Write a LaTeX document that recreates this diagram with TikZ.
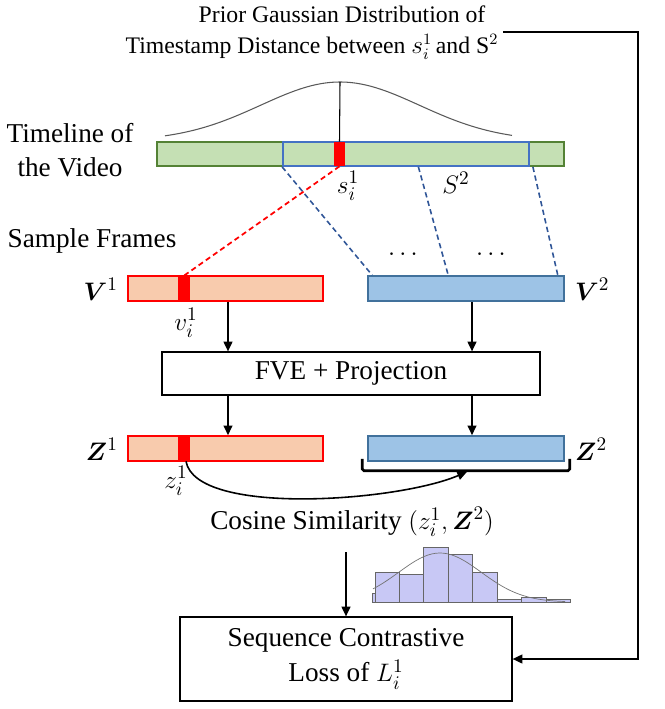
\documentclass[tikz,border=0pt]{standalone}
\usepackage{fontspec}
\setmainfont{Liberation Serif}
\usepackage{amsmath}
\usetikzlibrary{arrows.meta,fit,calc}

\definecolor{tlgreen}{HTML}{C5E0B4}
\definecolor{tledge}{HTML}{548235}
\definecolor{winblue}{HTML}{4472C4}
\definecolor{peach}{HTML}{F8CBAD}
\definecolor{featblue}{HTML}{9DC3E6}
\definecolor{featedge}{HTML}{41719C}
\definecolor{dashblue}{HTML}{2F5597}
\definecolor{histfill}{HTML}{C8C8F5}

\begin{document}
\begin{tikzpicture}[
    x=0.02cm, y=-0.02cm,
    lbl/.style      = {font=\fontsize{15.5}{19}\selectfont, align=center},
    ttl/.style      = {font=\fontsize{13.5}{16}\selectfont, inner sep=0pt},
    tlbar/.style    = {draw=tledge, fill=tlgreen, line width=1pt, inner sep=0pt},
    window/.style   = {draw=winblue, line width=1pt, inner sep=0pt},
    redbar/.style   = {draw=red, fill=peach, line width=0.9pt, inner sep=0pt},
    bluebar/.style  = {draw=featedge, fill=featblue, line width=0.9pt, inner sep=0pt},
    frameblk/.style = {fill=red, inner sep=0pt},
    procbox/.style  = {draw, line width=0.7pt, inner sep=0pt, align=center,
                       font=\fontsize{15.5}{19}\selectfont},
    flow/.style     = {-{Triangle[length=5.5pt,width=5pt]}, line width=0.9pt},
    sampled/.style  = {dashed, dash pattern=on 3pt off 2pt, line width=0.9pt, dashblue},
    histbar/.style  = {fill=histfill, draw=black!60, line width=0.5pt},
]
\useasboundingbox (0,0) rectangle (665,709);

% ============================================================
%  PRIOR  --  title and Gaussian over the timeline
% ============================================================
\node[ttl] (priorA) at (342,14) {Prior Gaussian Distribution of};
\node[ttl] (priorB) at (312,47) {Timestamp Distance between $s_i^1$\,and S$^2$};

\draw[black!65, line width=0.6pt] plot[domain=-175:172, samples=70]
    ({340+\x}, {141-59*exp(-((\x/10)^2)/125.8)});

% ============================================================
%  TIMELINE OF THE VIDEO
% ============================================================
\node[tlbar,  fit={(157,142) (564,166)}] (tl)   {};
\node[window, fit={(283,142) (529,166)}] (win)  {};
\node[frameblk, fit={(334,142) (345,166)}] (sblk) {};
\draw[line width=0.6pt] (340,82) -- (sblk.north);

\node[lbl] (tllbl) at (70,150) {Timeline of\\the Video};
\node[lbl] (s1) at (348,186) {$s_i^1$};
\node[lbl] (S2) at (456,183) {$S^2$};

% ============================================================
%  SAMPLE FRAMES  V1 / V2
% ============================================================
\node[lbl] (sflbl) at (92,241) {Sample Frames};

\node[redbar,   fit={(128,276) (323,301)}] (V1)  {};
\node[frameblk, fit={(178,276) (190,301)}] (v1r) {};
\node[bluebar,  fit={(368,276) (564,301)}] (V2)  {};

\node[lbl, anchor=east] (V1lbl) at (124,289) {$\boldsymbol{V}^1$};
\node[lbl, anchor=west] (V2lbl) at (569,289) {$\boldsymbol{V}^2$};
\node[lbl] (v1lbl) at (186,323) {$v_i^1$};

\node[lbl] (dotsA) at (405,255) {$\cdots$};
\node[lbl] (dotsB) at (493,255) {$\cdots$};

% sampling lines
\draw[red, dashed, dash pattern=on 3pt off 2pt, line width=1pt] (sblk.south) -- (v1r.north);
\draw[sampled] (win.south west) -- ([xshift=0.1cm]V2.north west);
\draw[sampled] ($(win.south west)!0.55!(win.south east)$)
            -- ($(V2.north west)!0.41!(V2.north east)$);
\draw[sampled] ([xshift=0.06cm]win.south east) -- ([xshift=-0.14cm]V2.north east);

% ============================================================
%  FVE + PROJECTION
% ============================================================
\node[procbox, minimum width=378*0.02cm, minimum height=43*0.02cm]
    (fve) at (351,373.5) {FVE + Projection};

\draw[flow] ([xshift=0.05cm]V1.south) -- ([xshift=0.05cm]V1.south |- fve.north);
\draw[flow] ([xshift=0.12cm]V2.south) -- ([xshift=0.12cm]V2.south |- fve.north);

% ============================================================
%  EMBEDDINGS  Z1 / Z2
% ============================================================
\node[redbar,   fit={(128,436) (323,461)}] (Z1)  {};
\node[frameblk, fit={(178,436) (190,461)}] (z1r) {};
\node[bluebar,  fit={(368,436) (564,461)}] (Z2)  {};

\draw[flow] ([xshift=0.05cm]V1.south |- fve.south) -- ([xshift=0.05cm]Z1.north);
\draw[flow] ([xshift=0.12cm]V2.south |- fve.south) -- ([xshift=0.12cm]Z2.north);

\node[lbl, anchor=east] (Z1lbl) at (124,449) {$\boldsymbol{Z}^1$};
\node[lbl, anchor=west] (Z2lbl) at (569,449) {$\boldsymbol{Z}^2$};
\node[lbl] (z1lbl) at (176,481) {$z_i^1$};

% bracket under Z2
\draw[line width=1.5pt, rounded corners=1pt]
    ($(Z2.south west)+(-5,-3)$) -- ++(0,12) -| ($(Z2.south east)+(5,-3)$);
\coordinate (brc) at ($(Z2.south)+(1,10)$);

\draw[flow] ([xshift=0.04cm]z1r.south)
    .. controls ($(z1r.south)+(12,55)$) and ($(brc)+(-70,30)$) .. (brc);

% ============================================================
%  COSINE SIMILARITY  ->  LOSS
% ============================================================
\node[lbl] (cos) at (352,522) {Cosine Similarity $(z_i^1,\boldsymbol{Z}^2)$};

\foreach \xl/\xr/\top in {372/375/593, 375/399/572, 399/423/574, 423/448/547,
                          448/472/554, 472/497/572, 497/521/599, 521/546/597, 546/570/599}
    \draw[histbar] (\xl,602) rectangle (\xr,\top);
\draw[black!55, line width=0.4pt] plot[domain=-67:125, samples=50]
    ({440+\x}, {602-49*exp(-((\x/10)^2)/34.08)});

\node[procbox, minimum width=332*0.02cm, minimum height=84*0.02cm]
    (loss) at (346,659) {Sequence Contrastive\\[1pt]Loss of $L_i^1$};

\coordinate (cosfoot) at (342,552);
\draw[flow] (loss.north |- cosfoot) -- (loss.north);

% feedback from the prior
\coordinate (fbstart)  at (503,32);
\coordinate (fbcorner) at (638,32);
\draw[flow] (fbstart) -- (fbcorner) |- (loss.east);

\end{tikzpicture}
\end{document}
